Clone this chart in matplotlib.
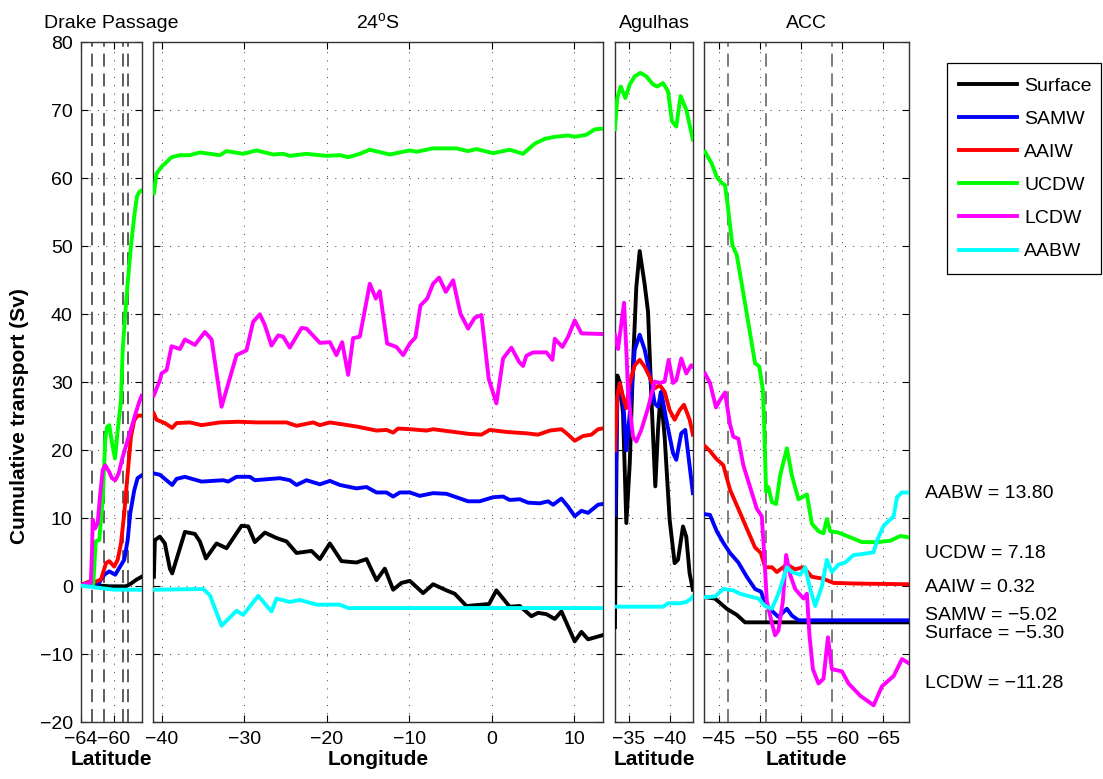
import matplotlib
matplotlib.use('Agg')
import matplotlib.pyplot as plt
from matplotlib.patches import Rectangle

plt.rcParams['font.family'] = ['Liberation Sans', 'DejaVu Sans']
plt.rcParams['mathtext.fontset'] = 'custom'
plt.rcParams['mathtext.rm'] = 'Liberation Sans'
plt.rcParams['mathtext.it'] = 'Liberation Sans:italic'
plt.rcParams['axes.unicode_minus'] = True

# ---------------- series definitions ----------------
names = ['Surface', 'SAMW', 'AAIW', 'UCDW', 'LCDW', 'AABW']
colors = ['#000000', '#0000ff', '#ff0000', '#00ff00', '#ff00ff', '#00ffff']

# ---------------- Drake Passage (latitude) ----------------
drake_surface_x = [-64, -60.5, -58.5, -57.9, -57.2, -56.6]
drake_surface_y = [0.3, 0.0, 0.0, 0.4, 1.0, 1.4]
drake_samw_x = [-64, -62.5, -61.8, -61.16, -60.55, -59.82, -59.33, -58.72, -58.3, -57.99, -57.5, -57.09, -56.6]
drake_samw_y = [0.2, 0.3, 0.5, 1.7, 2.2, 1.7, 2.7, 3.9, 6.8, 10.7, 14.1, 15.9, 16.3]
drake_aaiw_x = [-64, -62.99, -62.17, -61.56, -60.95, -60.55, -59.94, -59.52, -59.12, -58.72, -58.3, -57.9, -57.5, -57.09, -56.6]
drake_aaiw_y = [0.2, 0.7, 0.7, 1.0, 3.4, 3.7, 2.9, 3.9, 6.3, 10.7, 16.6, 22.0, 24.4, 25.1, 25.1]
drake_ucdw_x = [-64, -62.5, -62.2, -61.77, -61.35, -61.04, -60.83, -60.55, -60.2, -59.85, -59.52, -59.12, -58.91, -58.6, -58.3, -57.9, -57.5, -57.17, -56.89, -56.6]
drake_ucdw_y = [0.2, 0.3, 6.6, 6.8, 12.7, 21.5, 23.4, 23.7, 21.0, 18.8, 22.9, 27.3, 34.7, 40.0, 44.6, 50.0, 54.4, 57.3, 58.0, 58.2]
drake_lcdw_x = [-64, -62.8, -62.66, -62.57, -62.29, -61.96, -61.68, -61.35, -61.04, -60.55, -60.22, -59.82, -59.4, -58.91, -58.3, -57.7, -57.29, -56.89, -56.6]
drake_lcdw_y = [0.2, 0.5, 5.0, 9.8, 8.5, 9.3, 13.2, 17.1, 17.8, 16.8, 15.9, 15.6, 16.6, 19.0, 21.5, 23.9, 25.6, 27.1, 28.0]
drake_aabw_x = [-64, -62, -60, -56.6]
drake_aabw_y = [0.1, -0.2, -0.5, -0.5]
drake_fronts = [-62.66, -61.16, -58.9, -58.3]

# ---------------- 24S (longitude) ----------------
s24_surface_x = [-40.93, -40.81, -40.20, -39.60, -38.99, -38.71, -37.17, -35.96, -35.36, -34.63,
                 -33.34, -32.13, -30.31, -29.50, -28.70, -27.48, -26.07, -24.86, -23.65, -21.83,
                 -20.82, -19.61, -18.20, -16.38, -15.17, -13.96, -12.95, -11.94, -10.93, -9.92,
                 -8.31, -7.10, -5.48, -4.47, -3.06, -0.32, 0.57, 2.18, 3.40, 4.81,
                 5.62, 6.63, 7.64, 8.45, 10.06, 10.87, 11.68, 13.41]
s24_surface_y = [1.4, 6.8, 7.3, 6.3, 2.6, 1.9, 8.0, 7.7, 6.6, 4.1,
                 6.3, 5.6, 8.9, 8.8, 6.5, 7.9, 7.1, 6.6, 4.9, 5.2,
                 4.0, 6.3, 3.7, 3.5, 4.0, 0.9, 2.6, -0.5, 0.5, 0.8,
                 -1.0, 0.3, -0.6, -1.1, -2.9, -2.6, -0.6, -3.0, -2.9, -4.4,
                 -3.9, -4.1, -4.8, -3.7, -8.1, -6.7, -7.8, -7.2]
s24_samw_x = [-40.93, -40.20, -38.71, -38.18, -37.17, -35.16, -32.53, -31.93, -30.92, -29.30,
              -28.70, -25.67, -24.46, -23.65, -22.44, -20.82, -19.61, -18.40, -16.38, -15.17,
              -13.96, -12.75, -11.94, -11.13, -9.92, -8.71, -7.10, -5.48, -2.86, -1.45,
              0.17, 1.38, 2.18, 3.40, 4.41, 5.82, 6.83, 7.44, 8.45, 9.26,
              10.06, 10.87, 11.68, 12.89, 13.41]
s24_samw_y = [16.6, 16.4, 14.9, 15.8, 16.1, 15.4, 15.6, 15.4, 16.1, 16.1,
              15.6, 15.9, 15.6, 14.9, 15.6, 15.0, 15.5, 14.9, 14.4, 14.6,
              13.8, 13.8, 13.2, 13.8, 13.8, 13.3, 13.7, 13.6, 12.5, 12.5,
              13.1, 13.2, 12.7, 12.8, 12.3, 12.2, 12.5, 12.0, 12.9, 11.7,
              10.3, 11.1, 10.8, 12.0, 12.1]
s24_aaiw_x = [-40.93, -40.61, -39.60, -38.71, -38.18, -36.57, -35.16, -32.93, -30.71, -28.49,
              -24.86, -23.65, -21.63, -20.82, -19.61, -16.38, -13.96, -12.75, -11.94, -11.34,
              -9.92, -7.90, -7.10, -2.66, -1.24, -0.24, 1.78, 4.20, 5.62, 7.04,
              8.45, 9.26, 10.06, 11.07, 12.08, 12.89, 13.41]
s24_aaiw_y = [25.4, 24.5, 24.0, 23.3, 24.0, 24.1, 23.7, 24.1, 24.2, 24.1,
              24.1, 23.6, 24.1, 23.7, 24.1, 23.5, 22.9, 23.0, 22.6, 23.2,
              23.1, 22.9, 23.1, 22.4, 22.3, 23.0, 22.7, 22.5, 22.3, 22.9,
              23.1, 22.3, 21.4, 22.1, 22.3, 23.1, 23.2]
s24_ucdw_x = [-40.93, -40.61, -40.0, -39.39, -38.79, -37.78, -36.57, -35.36, -32.93, -32.13,
              -30.11, -28.49, -26.48, -25.26, -24.46, -22.44, -20.02, -18.40, -17.39, -15.98,
              -14.77, -12.35, -9.92, -9.12, -7.10, -4.27, -2.86, -1.85, 0.17, 2.18,
              3.80, 5.22, 6.43, 7.64, 9.26, 10.06, 11.47, 12.48, 13.41]
s24_ucdw_y = [57.8, 60.7, 61.7, 62.4, 63.1, 63.4, 63.4, 63.8, 63.4, 64.0,
              63.6, 64.1, 63.5, 63.6, 63.3, 63.6, 63.3, 63.4, 63.1, 63.6,
              64.2, 63.5, 64.1, 63.9, 64.4, 64.4, 64.0, 64.3, 63.7, 64.2,
              63.6, 65.1, 65.8, 66.1, 66.3, 66.1, 66.4, 67.2, 67.3]
s24_lcdw_x = [-40.93, -40.20, -40.0, -39.39, -38.79, -37.78, -37.17, -35.96, -34.75, -33.94,
              -32.73, -30.92, -29.71, -28.90, -28.09, -27.48, -26.68, -25.87, -25.26, -24.46,
              -23.04, -22.44, -20.82, -19.61, -18.81, -18.12, -17.39, -16.79, -15.98, -14.77,
              -14.04, -13.56, -12.67, -11.54, -10.73, -9.92, -9.24, -8.63, -7.82, -7.10,
              -6.37, -5.56, -4.67, -3.79, -2.86, -2.05, -1.24, -0.36, 0.57, 1.38,
              2.39, 3.32, 3.80, 4.20, 5.01, 6.63, 7.36, 7.64, 8.57, 9.26,
              10.06, 10.87, 13.41]
s24_lcdw_y = [28.1, 30.3, 31.3, 31.8, 35.3, 34.9, 36.3, 35.5, 37.4, 36.3,
              26.4, 34.0, 34.7, 38.9, 40.0, 38.4, 35.4, 36.9, 36.7, 35.1,
              38.0, 37.9, 35.8, 35.9, 34.0, 35.9, 31.1, 36.5, 36.7, 44.5,
              42.3, 43.4, 35.7, 35.2, 34.0, 35.7, 36.6, 41.3, 42.3, 44.5,
              45.4, 43.3, 45.0, 40.1, 37.9, 39.5, 39.9, 30.5, 26.9, 33.5,
              35.1, 33.0, 32.4, 33.9, 34.4, 34.4, 33.3, 36.4, 35.2, 36.7,
              39.1, 37.2, 37.1]
s24_aabw_x = [-40.93, -34.95, -34.15, -32.73, -30.92, -30.11, -28.29, -26.68, -26.07, -24.46,
              -23.25, -21.23, -18.40, -17.39, 13.41]
s24_aabw_y = [-0.5, -0.4, -1.3, -5.8, -3.6, -4.2, -1.4, -3.7, -1.8, -2.3,
              -2.0, -2.7, -2.7, -3.2, -3.2]

# ---------------- Agulhas (latitude) ----------------
agu_surface_x = [-33.28, -33.57, -33.87, -34.27, -34.67, -35.09, -35.49, -35.89, -36.30, -36.91,
                 -37.32, -37.72, -38.21, -38.54, -38.87, -39.35, -39.96, -40.57, -40.98, -41.59,
                 -41.99, -42.40, -42.80]
agu_surface_y = [-6.0, 31.0, 30.0, 25.4, 9.3, 18.1, 32.8, 44.0, 49.3, 44.4,
                 40.4, 28.0, 14.7, 23.0, 28.5, 22.0, 9.8, 3.4, 3.9, 8.8,
                 7.3, 1.9, -0.5]
agu_samw_x = [-33.28, -33.57, -33.87, -34.27, -34.67, -35.09, -35.70, -36.30, -36.91, -37.52,
              -38.13, -38.54, -38.94, -39.55, -40.37, -40.77, -41.38, -41.87, -42.80]
agu_samw_y = [10.5, 27.0, 29.9, 27.4, 20.0, 25.4, 34.8, 37.0, 34.8, 31.3,
              26.9, 26.4, 28.6, 24.5, 19.6, 18.6, 22.5, 23.0, 13.7]
agu_aaiw_x = [-33.28, -33.57, -33.87, -34.27, -34.67, -35.09, -35.70, -36.30, -36.91, -37.52,
              -38.13, -38.74, -39.35, -39.96, -40.57, -41.18, -41.71, -42.40, -42.80]
agu_aaiw_y = [20.0, 28.0, 29.9, 27.9, 26.2, 29.9, 32.5, 33.3, 32.3, 30.8,
              29.1, 29.6, 28.6, 25.9, 24.5, 25.9, 26.7, 24.5, 22.3]
agu_ucdw_x = [-33.28, -33.57, -33.99, -34.55, -35.09, -35.70, -36.38, -37.11, -37.93, -38.45,
              -39.15, -39.76, -40.24, -40.77, -41.30, -41.99, -42.80]
agu_ucdw_y = [67.2, 71.8, 73.5, 71.8, 73.8, 75.0, 75.5, 75.0, 73.8, 73.5,
              74.0, 72.8, 68.4, 67.6, 72.1, 70.1, 65.7]
agu_lcdw_x = [-33.28, -33.66, -34.39, -34.70, -34.88, -35.49, -35.89, -36.50, -37.32, -38.13,
              -38.74, -39.35, -39.84, -40.37, -40.77, -41.38, -41.99, -42.60, -42.80]
agu_lcdw_y = [37.0, 34.9, 41.7, 34.0, 28.5, 22.0, 21.3, 23.0, 26.2, 30.1,
              29.9, 30.1, 33.3, 29.9, 30.3, 33.5, 31.3, 32.5, 32.3]
agu_aabw_x = [-33.28, -39.15, -39.76, -41.22, -41.99, -42.60, -42.80]
agu_aabw_y = [-3.0, -3.0, -2.5, -2.5, -2.3, -1.8, -1.5]

# ---------------- ACC (latitude) ----------------
acc_surface_x = [-43.29, -44.51, -45.94, -47.16, -48.17, -68.09]
acc_surface_y = [-1.6, -1.8, -3.3, -4.2, -5.3, -5.3]
acc_samw_x = [-43.29, -43.90, -44.72, -45.52, -46.34, -47.35, -48.38, -49.39, -50.12, -50.61,
              -51.43, -52.23, -53.26, -53.87, -54.67, -59.76, -68.09]
acc_samw_y = [10.6, 10.5, 8.1, 6.4, 4.9, 3.5, 1.4, -0.4, -0.8, -2.5,
              -3.6, -4.5, -3.3, -4.3, -5.0, -5.0, -5.0]
acc_aaiw_x = [-43.29, -43.90, -44.63, -45.52, -46.34, -47.35, -48.38, -49.39, -50.09, -50.61,
              -51.43, -52.04, -53.26, -54.27, -55.28, -56.30, -57.72, -58.94, -61.79, -68.09]
acc_aaiw_y = [20.6, 19.9, 18.8, 17.8, 14.2, 11.4, 8.5, 5.7, 4.9, 2.8,
              2.8, 2.1, 3.2, 2.5, 2.8, 1.4, 1.1, 0.5, 0.4, 0.3]
acc_ucdw_x = [-43.29, -44.10, -44.72, -45.33, -45.73, -46.13, -46.62, -47.16, -47.96, -49.39,
              -49.91, -50.33, -50.49, -50.73, -51.01, -51.43, -51.95, -52.44, -53.26, -53.87,
              -54.67, -55.70, -56.30, -57.11, -57.72, -58.13, -58.54, -59.55, -60.98, -62.40,
              -64.23, -65.85, -67.07, -68.09]
acc_ucdw_y = [63.9, 62.2, 60.2, 59.3, 59.0, 55.3, 50.2, 48.7, 43.1, 32.8,
              32.3, 28.9, 24.2, 13.9, 14.6, 12.4, 12.1, 16.3, 20.3, 16.3,
              12.8, 13.5, 9.2, 8.1, 7.8, 9.9, 8.1, 7.9, 7.2, 6.5,
              6.5, 6.7, 7.4, 7.2]
acc_lcdw_x = [-43.29, -43.90, -44.63, -45.12, -45.73, -46.34, -46.74, -47.35, -47.96, -48.78,
              -49.60, -50.21, -50.49, -50.82, -51.43, -51.83, -52.23, -52.77, -53.17, -53.66,
              -54.27, -55.28, -55.70, -56.01, -56.43, -57.11, -57.72, -58.26, -58.74, -59.96,
              -60.77, -62.20, -63.82, -64.84, -66.26, -67.28, -68.09]
acc_lcdw_y = [31.3, 29.9, 26.3, 27.4, 28.5, 23.8, 22.0, 21.7, 17.8, 14.6,
              11.4, 10.3, 4.9, -2.2, -5.4, -7.2, -6.5, -2.2, 4.6, 1.7,
              -0.4, -1.8, -1.1, -7.2, -12.2, -14.3, -13.6, -7.5, -12.2, -12.5,
              -14.3, -16.1, -17.5, -14.7, -13.2, -10.7, -11.3]
acc_aabw_x = [-43.29, -44.51, -45.52, -46.74, -47.56, -48.78, -49.79, -50.61, -51.43, -52.23,
              -53.26, -53.87, -54.88, -55.49, -56.10, -56.71, -57.52, -58.13, -58.74, -59.55,
              -60.37, -61.38, -62.20, -63.82, -64.23, -65.04, -66.26, -66.67, -67.28, -68.09]
acc_aabw_y = [-1.6, -1.5, -0.4, -0.6, -1.1, -1.5, -1.8, -2.9, -3.3, -1.1,
              2.8, 2.1, 1.7, 2.8, -0.4, -2.9, 0.0, 3.9, 2.1, 3.2,
              3.5, 4.6, 4.7, 5.0, 6.7, 8.9, 10.3, 13.1, 13.8, 13.8]
acc_fronts = [-46.15, -50.7, -58.8]

# final ACC transports (annotation)
final_names = ['AABW', 'UCDW', 'AAIW', 'SAMW', 'Surface', 'LCDW']
final_values = [13.80, 7.18, 0.32, -5.02, -5.30, -11.28]

# ---------------- figure ----------------
W, H = 1103, 779
fig = plt.figure(figsize=(W / 100, H / 100), dpi=100)

def frac(x0, x1):
    return [x0 / W, (H - 722.3) / H, (x1 - x0) / W, 680 / H]

ax_d = fig.add_axes(frac(81, 142))
ax_s = fig.add_axes(frac(153.3, 602.7))
ax_a = fig.add_axes(frac(614.7, 693.3))
ax_c = fig.add_axes(frac(704, 909))

LW = 2.8
grid_ls = (0, (1, 7.5))
front_ls = (0, (8.5, 4.5))

panels = [
    (ax_d, [(drake_surface_x, drake_surface_y), (drake_samw_x, drake_samw_y), (drake_aaiw_x, drake_aaiw_y),
            (drake_ucdw_x, drake_ucdw_y), (drake_lcdw_x, drake_lcdw_y), (drake_aabw_x, drake_aabw_y)]),
    (ax_s, [(s24_surface_x, s24_surface_y), (s24_samw_x, s24_samw_y), (s24_aaiw_x, s24_aaiw_y),
            (s24_ucdw_x, s24_ucdw_y), (s24_lcdw_x, s24_lcdw_y), (s24_aabw_x, s24_aabw_y)]),
    (ax_a, [(agu_surface_x, agu_surface_y), (agu_samw_x, agu_samw_y), (agu_aaiw_x, agu_aaiw_y),
            (agu_ucdw_x, agu_ucdw_y), (agu_lcdw_x, agu_lcdw_y), (agu_aabw_x, agu_aabw_y)]),
    (ax_c, [(acc_surface_x, acc_surface_y), (acc_samw_x, acc_samw_y), (acc_aaiw_x, acc_aaiw_y),
            (acc_ucdw_x, acc_ucdw_y), (acc_lcdw_x, acc_lcdw_y), (acc_aabw_x, acc_aabw_y)]),
]

handles = []
for ax, series in panels:
    for (x, y), c, n in zip(series, colors, names):
        h, = ax.plot(x, y, color=c, lw=LW, solid_joinstyle='round', label=n, zorder=3)
        if ax is ax_d:
            handles.append(h)
    ax.set_ylim(-20, 80)
    ax.set_yticks(range(-20, 81, 10))
    ax.grid(True, linestyle=grid_ls, color='0.25', linewidth=0.7)
    ax.tick_params(direction='in', top=True, right=True, length=5, width=0.8,
                   labelsize=14, pad=6, colors='black')
    for sp in ax.spines.values():
        sp.set_linewidth(1.0)
        sp.set_color('0.2')

for f in drake_fronts:
    ax_d.axvline(f, color='0.2', lw=1.1, linestyle=front_ls, zorder=2)
for f in acc_fronts:
    ax_c.axvline(f, color='0.35', lw=1.1, linestyle=front_ls, zorder=2)

ax_d.set_xlim(-64, -56.55)
ax_d.set_xticks([-64, -60])
ax_s.set_xlim(-41.0, 13.45)
ax_s.set_xticks([-40, -30, -20, -10, 0, 10])
ax_a.set_xlim(-33.25, -42.85)
ax_a.set_xticks([-35, -40])
ax_c.set_xlim(-43.17, -68.13)
ax_c.set_xticks([-45, -50, -55, -60, -65])

for ax in (ax_s, ax_a, ax_c):
    ax.tick_params(labelleft=False)

ax_d.set_ylabel('Cumulative transport (Sv)', fontsize=15, fontweight='bold')
ax_d.yaxis.set_label_coords(-0.86, 0.45)

for ax, t in [(ax_d, 'Drake Passage'), (ax_s, r'24$^{\mathrm{o}}$S'), (ax_a, 'Agulhas'), (ax_c, 'ACC')]:
    ax.set_title(t, fontsize=14, pad=10)
for ax, t in [(ax_d, 'Latitude'), (ax_s, 'Longitude'), (ax_a, 'Latitude'), (ax_c, 'Latitude')]:
    ax.set_xlabel(t, fontsize=15, fontweight='bold', labelpad=2)

# legend: frame drawn as a separate rectangle so padding can be set freely
frame = Rectangle((946.5 / W, 1 - 274 / H), (1101 - 946.5) / W, (274 - 63) / H,
                  transform=fig.transFigure, facecolor='white', edgecolor='black',
                  linewidth=0.9, zorder=1)
fig.add_artist(frame)
leg = fig.legend(handles, names, loc='upper left', bbox_to_anchor=(959 / W, 1 - 77 / H),
                 bbox_transform=fig.transFigure, fontsize=14, frameon=False,
                 handlelength=3.0, handletextpad=0.35, labelspacing=0.8, borderpad=0,
                 borderaxespad=0)
leg.set_zorder(2)

annot_y = [493, 553, 587, 615, 634, 684]
for n, v, yp in zip(final_names, final_values, annot_y):
    fig.text(925 / W, 1 - yp / H, f'{n} = {v:.2f}'.replace('-', '\u2212'),
             fontsize=14, va='center', ha='left')

fig.savefig('out.png', dpi=100)
